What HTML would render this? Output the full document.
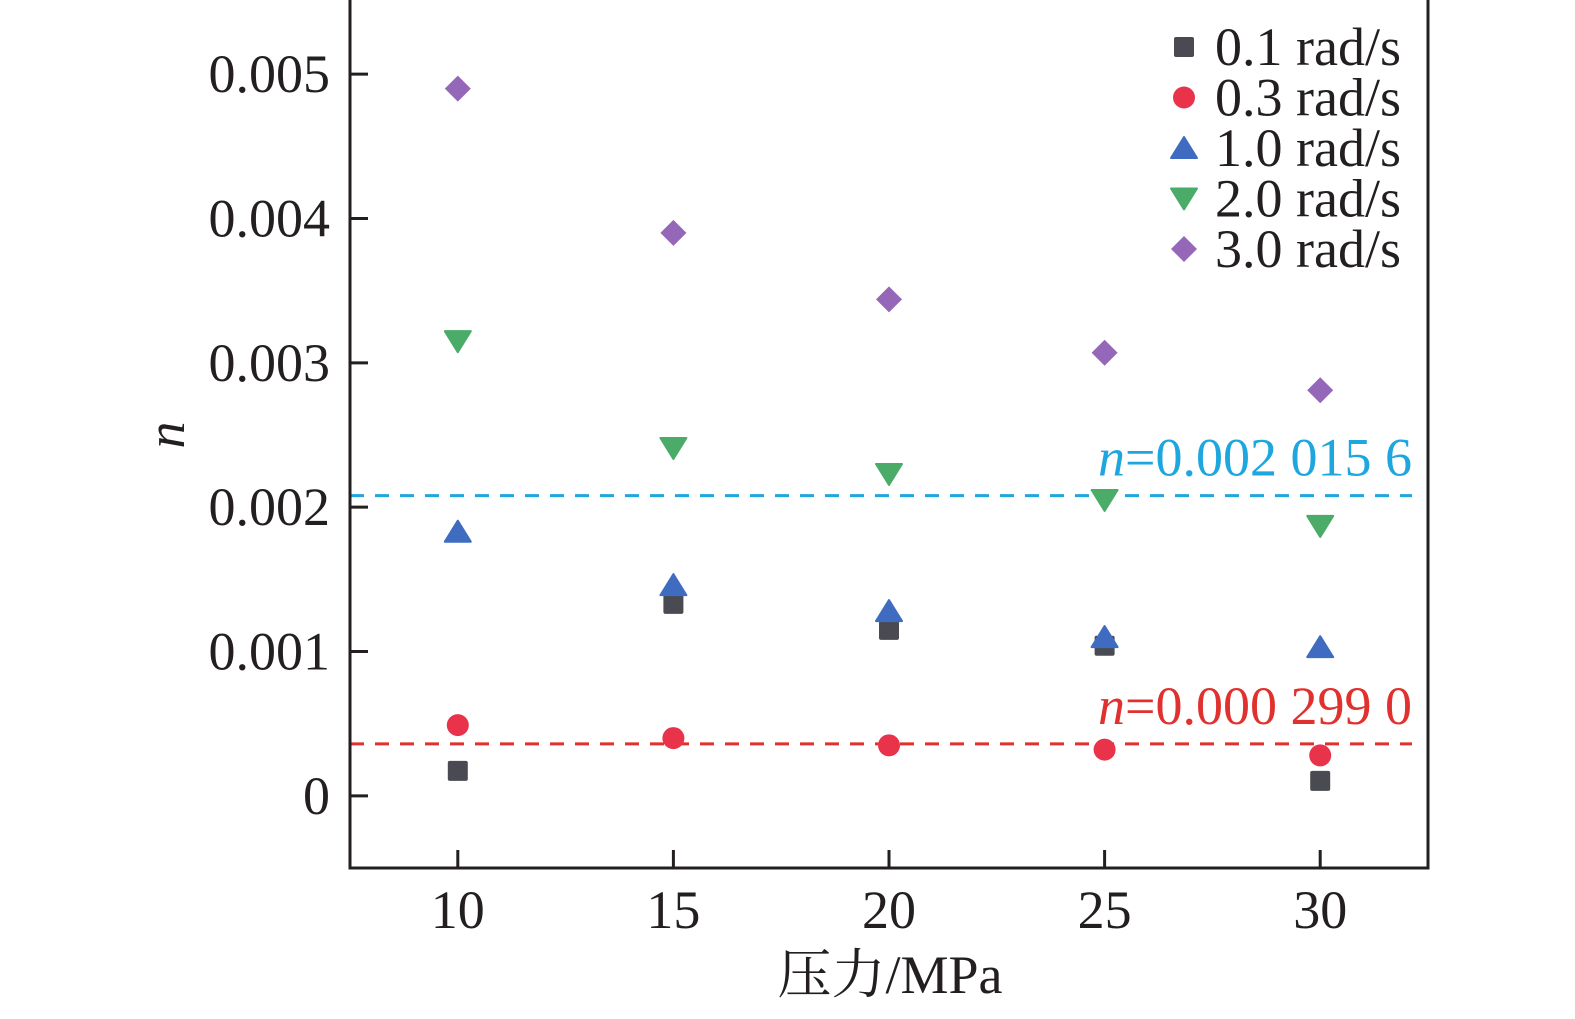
<!DOCTYPE html>
<html><head><meta charset="utf-8"><style>
html,body{margin:0;padding:0;background:#fff;}
svg text{font-family:"Liberation Serif","Noto Serif CJK SC",serif;fill:#231f20;}
</style></head><body>
<svg id="chart" width="1575" height="1014" viewBox="0 0 1575 1014" xmlns="http://www.w3.org/2000/svg"></svg>
<script>
const categories = [10, 15, 20, 25, 30];
const s01 = [0.000173, 0.00133, 0.00115, 0.00104, 0.000104];
const s03 = [0.00049, 0.00040, 0.00035, 0.00032, 0.00028];
const s10 = [0.00183, 0.00146, 0.00128, 0.00110, 0.00103];
const s20 = [0.00315, 0.00241, 0.00223, 0.00205, 0.00187];
const s30 = [0.00490, 0.00390, 0.00344, 0.00307, 0.00281];
const seriesNames = ["0.1 rad/s", "0.3 rad/s", "1.0 rad/s", "2.0 rad/s", "3.0 rad/s"];
const yTicks = [0, 0.001, 0.002, 0.003, 0.004, 0.005];
const yTickLabels = ["0", "0.001", "0.002", "0.003", "0.004", "0.005"];
const refBlue = 0.00208;
const refRed = 0.00036;
const refBlueLabel = "=0.002 015 6";
const refRedLabel = "=0.000 299 0";

const svg = document.getElementById('chart');
const NS = 'http://www.w3.org/2000/svg';
const L = 350, R = 1428, T = 2, B = 868;
const xMin = 7.5, xMax = 32.5, yMin = -0.0005, yMax = 0.0055;
const FS = 54;
function xs(v){ return L + (v - xMin) / (xMax - xMin) * (R - L); }
function ys(v){ return B - (v - yMin) / (yMax - yMin) * (B - T); }
function mk(tag, attrs, parent){
  const e = document.createElementNS(NS, tag);
  for (const k in attrs) e.setAttribute(k, attrs[k]);
  (parent || svg).appendChild(e);
  return e;
}
function marker(type, cx, cy, color, g){
  const s = 11;
  if (type === 'square') return mk('rect', {x: cx - 10, y: cy - 10, width: 20, height: 20, rx: 2, fill: color}, g);
  if (type === 'circle') return mk('circle', {cx: cx, cy: cy, r: 11, fill: color}, g);
  if (type === 'up') return mk('polygon', {points: `${cx},${cy - s} ${cx + s + 2},${cy + s - 1} ${cx - s - 2},${cy + s - 1}`, fill: color, 'stroke-linejoin': 'round', stroke: color, 'stroke-width': 2}, g);
  if (type === 'down') return mk('polygon', {points: `${cx - s - 2},${cy - s + 1} ${cx + s + 2},${cy - s + 1} ${cx},${cy + s}`, fill: color, 'stroke-linejoin': 'round', stroke: color, 'stroke-width': 2}, g);
  return mk('polygon', {points: `${cx},${cy - 13} ${cx + 13},${cy} ${cx},${cy + 13} ${cx - 13},${cy}`, fill: color}, g);
}

let ln = mk('line', {x1: L, x2: 1412, y1: ys(refBlue), y2: ys(refBlue), stroke: '#1ea6df', 'stroke-width': 3, 'stroke-dasharray': '14 11'});


ln = mk('line', {x1: L, x2: 1412, y1: ys(refRed), y2: ys(refRed), stroke: '#e0312f', 'stroke-width': 3, 'stroke-dasharray': '14 11'});



let t = mk('text', {x: 1412, y: ys(refBlue) - 20, 'text-anchor': 'end', 'font-size': FS});


t.innerHTML = '<tspan font-style="italic" style="fill:#1ea6df">n</tspan><tspan style="fill:#1ea6df">' + refBlueLabel + '</tspan>';
t = mk('text', {x: 1412, y: ys(refRed) - 20, 'text-anchor': 'end', 'font-size': FS});


t.innerHTML = '<tspan font-style="italic" style="fill:#e0312f">n</tspan><tspan style="fill:#e0312f">' + refRedLabel + '</tspan>';

const fr = mk('rect', {x: L, y: T - 10, width: R - L, height: B - T + 10, fill: 'none', stroke: '#231f20', 'stroke-width': 3});



yTicks.forEach((v, i) => {
  const tk = mk('line', {x1: L, x2: L + 18, y1: ys(v), y2: ys(v), stroke: '#231f20', 'stroke-width': 3});
  
  
  const lb = mk('text', {x: 330, y: ys(v) + 18, 'text-anchor': 'end', 'font-size': FS});
  
  
  lb.textContent = yTickLabels[i];
});
categories.forEach(c => {
  const tk = mk('line', {x1: xs(c), x2: xs(c), y1: B, y2: B - 18, stroke: '#231f20', 'stroke-width': 3});
  
  
  const lb = mk('text', {x: xs(c), y: 928, 'text-anchor': 'middle', 'font-size': FS});
  
  
  lb.textContent = c;
});
t = mk('text', {x: 890, y: 993, 'text-anchor': 'middle', 'font-size': FS});


t.textContent = '压力/MPa';
t = mk('text', {x: 0, y: 0, 'text-anchor': 'middle', 'font-size': FS, 'font-style': 'italic', transform: 'translate(184,435) rotate(-90)'});


t.textContent = 'n';

const allSeries = [s01, s03, s10, s20, s30];
const types = ['square', 'circle', 'up', 'down', 'diamond'];
const colors = ['#4a4b52', '#e8334a', '#3f6cc0', '#4bab68', '#9467b9'];
allSeries.forEach((arr, si) => {
  const g = mk('g', {});
  
  
  arr.forEach((v, i) => {
    const m = marker(types[si], xs(categories[i]), ys(v), colors[si], g);
    
    
  });
});

const lg = mk('g', {});


seriesNames.forEach((n, i) => {
  const cy = 47 + i * 50.5;
  const m = marker(types[i], 1184, cy, colors[i], lg);
  
  
  const tx = mk('text', {x: 1215, y: cy + 18, 'font-size': FS}, lg);
  
  
  tx.textContent = n;
});
</script>
</body></html>
